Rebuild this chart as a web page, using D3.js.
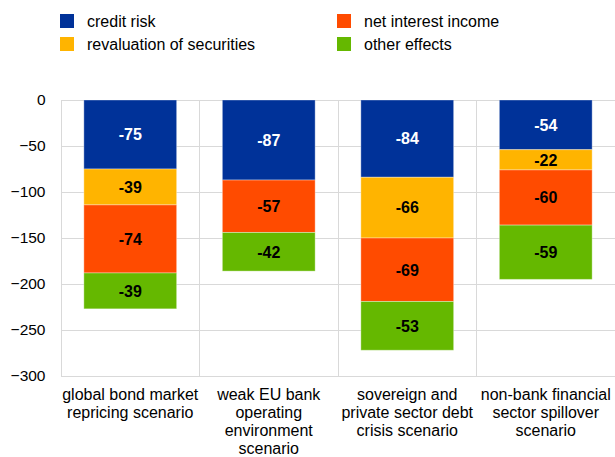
<!DOCTYPE html>
<html><head><meta charset="utf-8">
<script src="https://cdn.jsdelivr.net/npm/d3@7"></script>
<style>body{margin:0;background:#fff}svg{display:block;font-family:"Liberation Sans",Arial,sans-serif}</style>
</head><body><svg id="c" width="615" height="457"></svg>
<script>
const categories = [
  ["global bond market","repricing scenario"],
  ["weak EU bank","operating","environment","scenario"],
  ["sovereign and","private sector debt","crisis scenario"],
  ["non-bank financial","sector spillover","scenario"]
];
const seriesNames = ["credit risk","revaluation of securities","net interest income","other effects"];
const seriesColors = ["#003299","#FFB400","#FF4B00","#65B800"];
const labelColors = ["#ffffff","#000000","#000000","#000000"];
const creditRisk = [-75,-87,-84,-54];
const revaluation = [-39,0,-66,-22];
const netInterest = [-74,-57,-69,-60];
const otherEffects = [-39,-42,-53,-59];
const yTicks = [0,-50,-100,-150,-200,-250,-300];

const series = [creditRisk, revaluation, netInterest, otherEffects];
const svg = d3.select("#c");
const L=61, R=615, T=100, B=376;
const x = d3.scaleBand().domain(d3.range(categories.length)).range([L,R]).paddingInner(0.33).paddingOuter(0.165);
const xb = d3.scaleBand().domain(d3.range(categories.length)).range([L,R]);
const y = d3.scaleLinear().domain([0,-300]).range([T,B]);

// grid
const g = svg.append("g");
g.selectAll("line.h").data(yTicks).join("line")
  .attr("x1",L).attr("x2",R).attr("y1",d=>y(d)).attr("y2",d=>y(d))
  .attr("stroke","#d9d9d9").attr("stroke-width",1).attr("shape-rendering","crispEdges");
g.selectAll("line.v").data(d3.range(categories.length+1)).join("line")
  .attr("x1",i=>i<categories.length?xb(i):R).attr("x2",i=>i<categories.length?xb(i):R)
  .attr("y1",T).attr("y2",B)
  .attr("stroke","#d9d9d9").attr("stroke-width",1).attr("shape-rendering","crispEdges");

// y axis labels
const yAxis = d3.axisLeft(y).tickValues(yTicks).tickSize(0).tickPadding(0);
const ya = svg.append("g").attr("transform",`translate(${L-15.5},0)`).call(yAxis);
ya.select(".domain").remove();
ya.selectAll("text").attr("font-size",15.5).attr("fill","#000").attr("font-family","Liberation Sans, Arial, sans-serif");

// bars
categories.forEach((c,i)=>{
  let acc=0;
  series.forEach((s,k)=>{
    const v=s[i]; if(!v) return;
    const y0=acc, y1=acc+v; acc=y1;
    svg.append("rect").attr("x",x(i)).attr("width",x.bandwidth())
      .attr("y",y(y0)).attr("height",y(y1)-y(y0))
      .attr("fill",seriesColors[k]).attr("stroke","rgba(255,255,255,0.35)").attr("stroke-width",1);
    svg.append("text").attr("x",x(i)+x.bandwidth()/2).attr("y",(y(y0)+y(y1))/2)
      .attr("dy","0.36em").attr("text-anchor","middle").attr("font-weight","bold")
      .attr("font-size",16).attr("fill",labelColors[k]).text(v);
  });
});

// category labels
categories.forEach((lines,i)=>{
  const t=svg.append("text").attr("text-anchor","middle").attr("font-size",16).attr("fill","#000");
  lines.forEach((ln,j)=>t.append("tspan").attr("x",xb(i)+xb.bandwidth()/2).attr("y",400+j*18).text(ln));
});

// legend
const legPos=[[60,14],[337,14],[60,37],[337,37]];
const legOrder=[0,2,1,3];
legOrder.forEach((k,idx)=>{
  const [lx,ly]=legPos[idx];
  svg.append("rect").attr("x",lx).attr("y",ly).attr("width",14).attr("height",14).attr("fill",seriesColors[k]);
  svg.append("text").attr("x",lx+27).attr("y",ly+7).attr("dy","0.36em").attr("font-size",16).attr("fill","#000").text(seriesNames[k]);
});
</script></body></html>
